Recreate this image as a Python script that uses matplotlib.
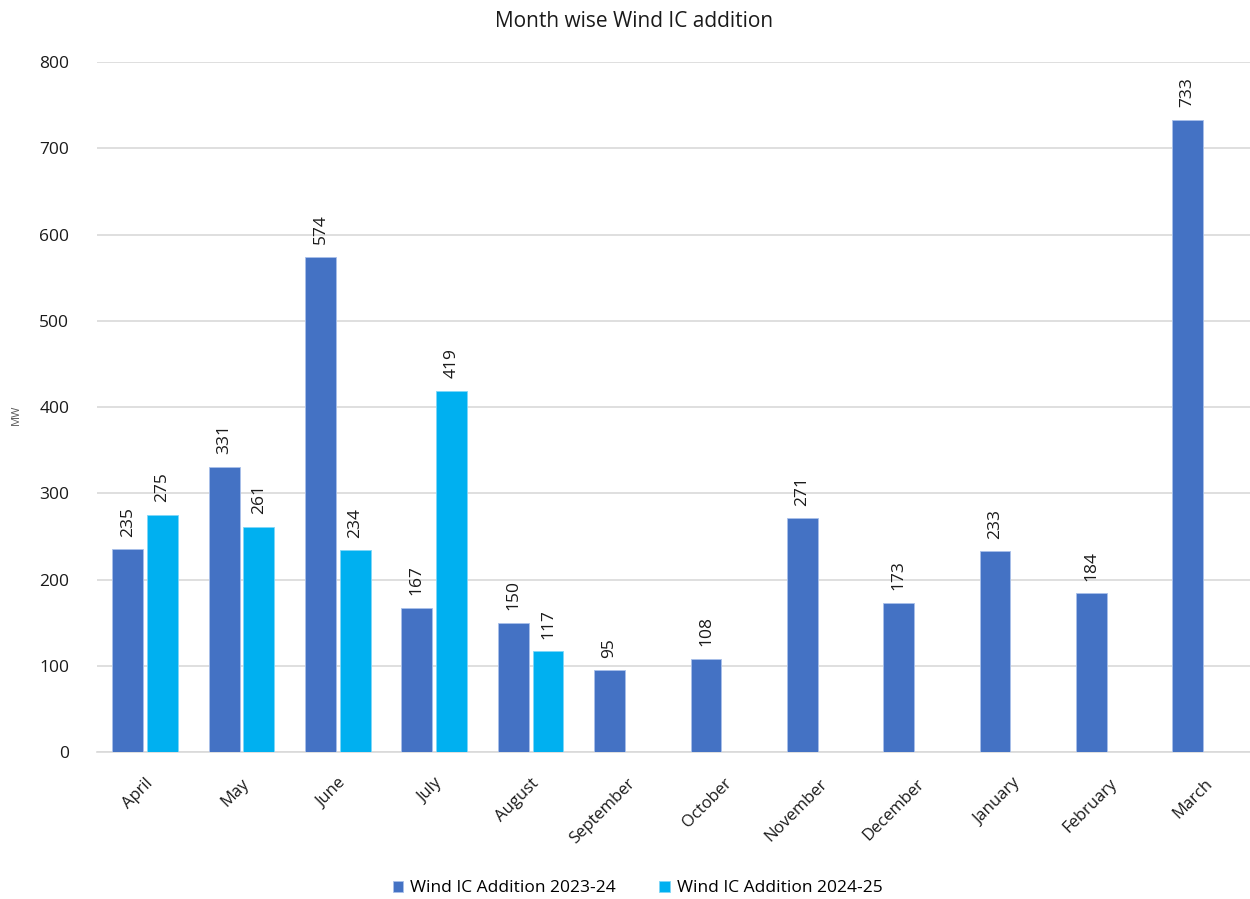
import numpy as np
import matplotlib
matplotlib.use("Agg")
import matplotlib.pyplot as plt

months = ["April", "May", "June", "July", "August", "September", "October",
          "November", "December", "January", "February", "March"]
wind_2023_24 = [235, 331, 574, 167, 150, 95, 108, 271, 173, 233, 184, 733]
wind_2024_25 = [275, 261, 234, 419, 117, None, None, None, None, None, None, None]
series_names = ["Wind IC Addition 2023-24", "Wind IC Addition 2024-25"]
colors = ["#4472C4", "#00B0F0"]
title = "Month wise Wind IC addition"
ylabel = "MW"
yticks = [0, 100, 200, 300, 400, 500, 600, 700, 800]

plt.rcParams['font.family'] = ['Open Sans', 'DejaVu Sans']

fig = plt.figure(figsize=(12.5, 8.99), dpi=100)
ax = fig.add_axes([0.0776, 0.1635, 0.925, 0.7675])

x = np.arange(len(months))
w = 0.32
off = 0.18
for vals, name, col, sgn in [(wind_2023_24, series_names[0], colors[0], -1),
                             (wind_2024_25, series_names[1], colors[1], 1)]:
    arr = np.array([np.nan if v is None else v for v in vals], dtype=float)
    ax.bar(x + sgn * off, arr, width=w, color=col, label=name,
           edgecolor="#a9c0ea" if sgn < 0 else "#7fd6f7", linewidth=0.6, zorder=3)
    for xi, v in zip(x + sgn * off, vals):
        if v is None:
            continue
        ax.annotate(str(v), (xi, v), xytext=(0, 9), textcoords="offset points",
                    rotation=90, ha="center", va="bottom", fontsize=12.5, color="#1a1a1a")

ax.set_xlim(-0.5, len(months) - 0.5)
ax.set_ylim(0, 800)
ax.set_yticks(yticks)
ax.set_yticklabels([str(t) for t in yticks], fontsize=12.5, color="#1a1a1a")
ax.set_xticks(x)
ax.set_xticklabels(months, rotation=45, ha="right", va="top", rotation_mode="anchor",
                   fontsize=12, color="#1a1a1a")
ax.tick_params(axis="both", length=0)
ax.tick_params(axis="y", pad=20)
ax.tick_params(axis="x", pad=17)
ax.grid(axis="y", color="#d9d9d9", linewidth=1.2, zorder=0)
for s in ["top", "right", "left"]:
    ax.spines[s].set_visible(False)
ax.spines["bottom"].set_color("#d9d9d9")
ax.spines["bottom"].set_linewidth(1.2)

fig.text(0.0135, 0.5383, ylabel, rotation=90, ha="center", va="center", fontsize=8, color="#595959")
fig.text(0.507, 0.976, title, ha="center", va="center", fontsize=15, color="#1a1a1a")

handles, labels = ax.get_legend_handles_labels()
fig.legend(handles, labels, loc="center", bbox_to_anchor=(0.51, 0.012), ncol=2,
           frameon=False, fontsize=12.5, handlelength=0.6, handleheight=0.6,
           handletextpad=0.4, columnspacing=2.5)

fig.savefig("out.png", dpi=100, facecolor="white")
